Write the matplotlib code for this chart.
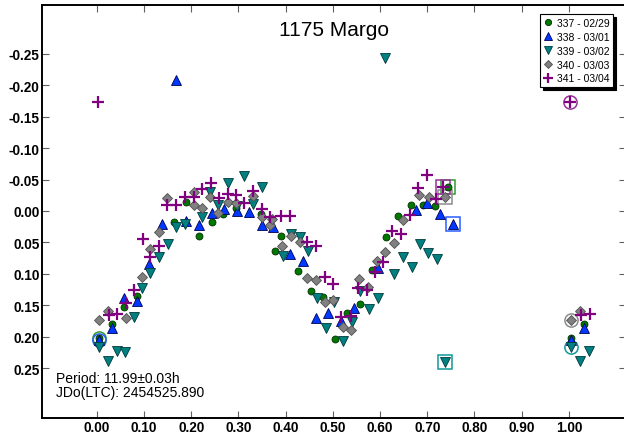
import matplotlib
matplotlib.use('Agg')
import matplotlib.pyplot as plt
import numpy as np

plt.rcParams['font.family'] = ['Liberation Sans', 'DejaVu Sans']

# session labels (run number - UT date)
labels = ['337 - 02/29', '338 - 03/01', '339 - 03/02', '340 - 03/03', '341 - 03/04']

# phase / reduced magnitude for each session
ph_337 = [0.005, 0.032, 0.058, 0.085, 0.164, 0.190, 0.217, 0.244, 0.268, 0.294,
          0.347, 0.378, 0.390, 0.427, 0.453, 0.479, 0.505, 0.531, 0.558, 0.584,
          0.612, 0.638, 0.665, 0.690, 0.716, 0.743]
mag_337 = [0.203, 0.180, 0.153, 0.135, 0.018, -0.014, 0.040, 0.018, 0.004, -0.005,
           0.004, 0.064, 0.040, 0.095, 0.127, 0.137, 0.204, 0.163, 0.148, 0.094,
           0.042, 0.008, -0.010, -0.010, -0.008, -0.039]

ph_338 = [0.005, 0.032, 0.058, 0.085, 0.111, 0.138, 0.167, 0.190, 0.217, 0.244,
          0.270, 0.297, 0.323, 0.349, 0.374, 0.410, 0.437, 0.464, 0.490, 0.517,
          0.544, 0.596, 0.676, 0.700, 0.727, 0.755]
mag_338 = [0.206, 0.187, 0.138, 0.144, 0.084, 0.020, -0.208, 0.016, 0.023, 0.003,
           -0.003, 0.000, 0.001, 0.023, 0.025, 0.069, 0.080, 0.170, 0.162, 0.175,
           0.154, 0.091, -0.002, -0.013, 0.004, 0.020]

ph_339 = [0.005, 0.023, 0.042, 0.060, 0.078, 0.095, 0.113, 0.132, 0.150, 0.167,
          0.186, 0.222, 0.240, 0.257, 0.277, 0.297, 0.312, 0.331, 0.349, 0.395,
          0.412, 0.431, 0.448, 0.466, 0.485, 0.503, 0.522, 0.540, 0.558, 0.576,
          0.595, 0.610, 0.630, 0.648, 0.667, 0.685, 0.702, 0.720, 0.737]
mag_339 = [0.216, 0.239, 0.223, 0.225, 0.169, 0.122, 0.099, 0.074, 0.052, 0.025,
           0.021, 0.010, -0.031, -0.010, -0.044, -0.008, -0.056, -0.011, -0.039, 0.072,
           0.036, 0.041, 0.064, 0.138, 0.187, 0.145, 0.207, 0.177, 0.127, 0.156,
           0.138, -0.244, 0.100, 0.073, 0.089, 0.052, 0.067, 0.077, 0.240]

ph_340 = [0.005, 0.023, 0.061, 0.095, 0.113, 0.131, 0.148, 0.205, 0.206, 0.222,
          0.240, 0.257, 0.277, 0.294, 0.331, 0.351, 0.367, 0.371, 0.393, 0.412,
          0.430, 0.446, 0.465, 0.483, 0.501, 0.521, 0.538, 0.556, 0.575, 0.593,
          0.610, 0.629, 0.648, 0.683, 0.703, 0.737]
mag_340 = [0.173, 0.160, 0.170, 0.105, 0.061, 0.033, -0.021, -0.010, -0.030, -0.004,
           -0.023, 0.003, -0.015, -0.012, -0.024, 0.009, 0.023, 0.013, 0.056, 0.040,
           0.049, 0.107, 0.110, 0.145, 0.142, 0.185, 0.190, 0.109, 0.121, 0.079,
           0.066, 0.051, 0.015, -0.026, -0.023, -0.022]

ph_341 = [0.002, 0.026, 0.044, 0.061, 0.079, 0.097, 0.113, 0.132, 0.148, 0.167,
          0.186, 0.205, 0.222, 0.242, 0.259, 0.277, 0.294, 0.312, 0.332, 0.351,
          0.367, 0.391, 0.410, 0.446, 0.464, 0.483, 0.501, 0.518, 0.538, 0.554,
          0.573, 0.589, 0.607, 0.626, 0.645, 0.664, 0.681, 0.699, 0.718, 0.734]
mag_341 = [-0.174, 0.165, 0.164, 0.146, 0.126, 0.045, 0.074, 0.055, -0.009, -0.010,
           -0.023, -0.022, -0.035, -0.044, -0.020, -0.027, -0.026, -0.013, -0.032, -0.003,
           0.009, 0.008, 0.008, 0.049, 0.056, 0.105, 0.116, 0.169, 0.167, 0.122,
           0.125, 0.097, 0.081, 0.032, 0.037, 0.006, -0.037, -0.058, -0.019, -0.039]

xticks = [0.0, 0.1, 0.2, 0.3, 0.4, 0.5, 0.6, 0.7, 0.8, 0.9, 1.0]
yticks = [-0.25, -0.20, -0.15, -0.10, -0.05, 0.0, 0.05, 0.10, 0.15, 0.20, 0.25]
period_text = 'Period: 11.99\u00b10.03h'
epoch_text = 'JDo(LTC): 2454525.890'

sessions = [(ph_337, mag_337), (ph_338, mag_338), (ph_339, mag_339),
            (ph_340, mag_340), (ph_341, mag_341)]

# marker styles: marker, size, face, edge, ring colour, which copy of the first point is ringed
styles = [
    dict(marker='o', ms=5, mfc='#007800', mec='#003000', mew=0.6, ring='#2e9e2e', shift=0),
    dict(marker='^', ms=6.5, mfc='#0038ff', mec='#000050', mew=0.6, ring='#2a5cff', shift=0),
    dict(marker='v', ms=6.5, mfc='#008080', mec='#003838', mew=0.6, ring='#129898', shift=1),
    dict(marker='D', ms=4.6, mfc='#808080', mec='#505050', mew=0.6, ring='#8c8c8c', shift=1),
    dict(marker='+', ms=8, mfc='#800080', mec='#800080', mew=1.6, ring='#983098', shift=1),
]

fig = plt.figure(figsize=(6.24, 4.35), dpi=100)
ax = fig.add_axes([0.0668, 0.0368, 0.9364, 0.9501])

handles = []
for (ph, mag), st, lab in zip(sessions, styles, labels):
    x = np.array(ph)
    y = np.array(mag)
    # repeat the start of the cycle past phase 1.0
    w = x < 0.05
    xs = np.concatenate([x, x[w] + 1.0])
    ys = np.concatenate([y, y[w]])
    h, = ax.plot(xs, ys, ls='none', marker=st['marker'], ms=st['ms'],
                 mfc=st['mfc'], mec=st['mec'], mew=st['mew'], label=lab, zorder=3)
    handles.append(h)
    # first point ringed, last point boxed
    ax.plot(x[0] + st['shift'], y[0], ls='none', marker='o', ms=9.5, mfc='none',
            mec=st['ring'], mew=1.1, zorder=2)
    ax.plot(x[-1], y[-1], ls='none', marker='s', ms=10, mfc='none',
            mec=st['ring'], mew=1.1, zorder=2)

ax.set_xlim(-0.1165, 1.1208)
ax.set_ylim(0.3296, -0.3285)

ax.set_xticks(xticks)
ax.set_xticklabels([f'{v:.2f}' for v in xticks], fontweight='bold', fontsize=9.8)
ax.set_yticks(yticks)
ax.set_yticklabels([f'{v:.2f}' for v in yticks], fontweight='bold', fontsize=9.8)
ax.tick_params(direction='in', length=5, width=0.8, color='#606060',
               top=True, right=True, labeltop=False, labelright=False)
ax.tick_params(axis='x', pad=1.2)
ax.tick_params(axis='y', pad=1.5)
for sp in ax.spines.values():
    sp.set_linewidth(1.4)

ax.text(0.5, 0.941, '1175 Margo', ha='center', va='center', fontsize=15,
        transform=ax.transAxes)
ax.text(0.0245, 0.0968, period_text, ha='left', va='center', fontsize=10,
        transform=ax.transAxes)
ax.text(0.0245, 0.0629, epoch_text, ha='left', va='center', fontsize=10,
        transform=ax.transAxes)

leg = ax.legend(handles=handles, loc='upper right', bbox_to_anchor=(0.9778, 0.9775),
                borderaxespad=0, fontsize=7.5, fancybox=False, framealpha=1,
                edgecolor='black', shadow={'color': 'black', 'alpha': 1},
                handlelength=0.8, handletextpad=0.4, labelspacing=0.38,
                borderpad=0.35, markerscale=0.9)
leg.get_frame().set_linewidth(0.8)

fig.savefig('out.png', dpi=100)
